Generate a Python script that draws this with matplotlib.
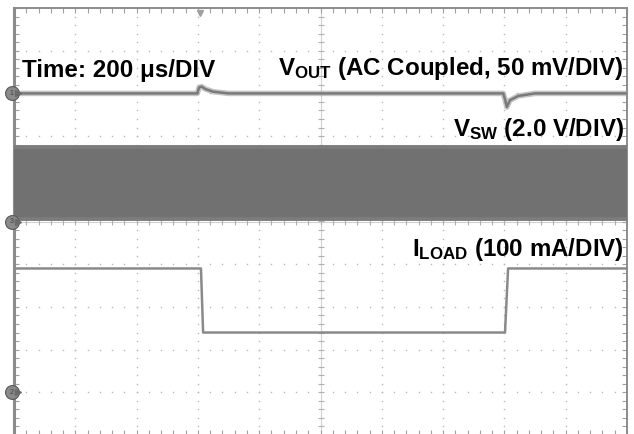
import numpy as np
import matplotlib
matplotlib.use("Agg")
import matplotlib.pyplot as plt
from matplotlib.ticker import MultipleLocator

plt.rcParams['font.family'] = ['Liberation Sans', 'DejaVu Sans']
plt.rcParams['mathtext.fontset'] = 'custom'
plt.rcParams['mathtext.bf'] = 'Liberation Sans:bold'
plt.rcParams['mathtext.rm'] = 'Liberation Sans'
plt.rcParams['mathtext.it'] = 'Liberation Sans:italic'

# ======================
# scope settings
# ======================
time_per_div = 200          # us/div
n_xdiv = 10
n_ydiv = 10
vout_scale = 50             # mV/div
vsw_scale = 2.0             # V/div
iload_scale = 100           # mA/div
ch1_offset = 3.0            # div (VOUT ground marker)
ch3_offset = 0.0            # div (VSW)
ch2_offset = -4.0           # div (ILOAD)

# ======================
# traces
# ======================
vout_t = [0, 598, 604, 612, 625, 650, 700, 1596, 1603, 1608, 1618, 1645, 1700, 2000]
vout_mv = [0, 0, 7, 8, 5, 2, 0, 0, -8, -16, -8, -3, 0, 0]

vsw_t = [0, 2000]
vsw_high = [3.5, 3.5]
vsw_low = [0.1, 0.1]

iload_t = [0, 610, 617, 1602, 1612, 2000]
iload_ma = [290, 290, 140, 140, 290, 290]

trig_t = 607

# ======================
# figure
# ======================
fig = plt.figure(figsize=(6.34, 4.34), dpi=100)
ax = fig.add_axes([14 / 634, -1 / 434, 613 / 634, 427 / 434])
xmax = time_per_div * n_xdiv
ax.set_xlim(0, xmax)
ax.set_ylim(-n_ydiv / 2, n_ydiv / 2)

grid_c = '#b8b8b8'
# dotted graticule
for k in range(1, n_xdiv):
    if k == n_xdiv // 2:
        continue
    yy = np.arange(-n_ydiv / 2, n_ydiv / 2 + 0.01, 0.2)
    ax.plot(np.full(len(yy), k * time_per_div), yy, ls='none', marker='s',
            ms=1.0, color=grid_c, mec='none', zorder=1)
for k in range(1, n_ydiv):
    if k == n_ydiv // 2:
        continue
    xx = np.arange(0, xmax + 0.1, time_per_div / 5)
    ax.plot(xx, np.full(len(xx), k - n_ydiv / 2), ls='none', marker='s',
            ms=1.0, color=grid_c, mec='none', zorder=1)

# center axes with cross ticks
ax.axvline(xmax / 2, color='#d0d0d0', lw=0.8, zorder=1)
ax.axhline(0, color='#d0d0d0', lw=0.8, zorder=1)
yy = np.arange(-n_ydiv / 2, n_ydiv / 2 + 0.01, 0.2)
ax.plot(np.full(len(yy), xmax / 2), yy, ls='none', marker='_', ms=4,
        mew=0.8, color='#b0b0b0', zorder=1)
xx = np.arange(0, xmax + 0.1, time_per_div / 5)
ax.plot(xx, np.zeros(len(xx)), ls='none', marker='|', ms=4,
        mew=0.8, color='#b0b0b0', zorder=1)

# frame
for side in ['top', 'left', 'right', 'bottom']:
    ax.spines[side].set_color('#8c8c8c')
ax.spines['left'].set_linewidth(2.2)
ax.spines['top'].set_linewidth(1.4)
ax.spines['right'].set_linewidth(1.4)
ax.spines['bottom'].set_linewidth(1.4)
ax.xaxis.set_major_locator(MultipleLocator(time_per_div))
ax.xaxis.set_minor_locator(MultipleLocator(time_per_div / 5))
ax.yaxis.set_major_locator(MultipleLocator(1))
ax.yaxis.set_minor_locator(MultipleLocator(0.2))
ax.tick_params(which='both', direction='in', top=True, bottom=True,
               left=True, right=True, labelbottom=False, labelleft=False,
               length=3.5, width=0.8, color='#a0a0a0')

# ======================
# traces
# ======================
vsw_top = np.array(vsw_high) / vsw_scale + ch3_offset
vsw_bot = np.array(vsw_low) / vsw_scale + ch3_offset
ax.fill_between(vsw_t, vsw_bot, vsw_top, color='#717171', lw=0, zorder=3)
ax.plot(vsw_t, vsw_top, color='#7c7c7c', lw=2.8, zorder=3)
ax.plot(vsw_t, vsw_bot, color='#7c7c7c', lw=2.8, zorder=3)

vout = np.array(vout_mv) / vout_scale + ch1_offset
ax.plot(vout_t, vout, color='#a0a0a0', lw=4.0, alpha=0.6, zorder=3)
ax.plot(vout_t, vout, color='#7a7a7a', lw=1.8, zorder=4)

iload = np.array(iload_ma) / iload_scale + ch2_offset
ax.plot(iload_t, iload, color='#8a8a8a', lw=1.8, zorder=4)

# channel markers
for lbl, off in [('1', ch1_offset), ('3', ch3_offset), ('2', ch2_offset)]:
    ax.plot(-7, off, marker='o', ms=10, color='#8a8a8a', mec='#5a5a5a',
            mew=0.8, clip_on=False, zorder=6)
    ax.text(-7, off, lbl, fontsize=5, ha='center', va='center',
            color='#404040', clip_on=False, zorder=7)
    ax.plot(12, off, marker='>', ms=4, color='#6a6a6a', clip_on=False, zorder=6)
ax.plot(trig_t, n_ydiv / 2 - 0.12, marker='v', ms=5, color='#a0a0a0',
        clip_on=False, zorder=6)

# ======================
# labels
# ======================
fs = 17.4
ax.text(26, 3.38, 'Time: 200 \u03bcs/DIV', fontsize=fs, fontweight='bold',
        ha='left', va='baseline', zorder=8)
ax.text(1990, 3.43, r'$\mathbf{V_{OUT}}$ (AC Coupled, 50 mV/DIV)',
        fontsize=fs, fontweight='bold', ha='right', va='baseline', zorder=8)
ax.text(1990, 2.0, r'$\mathbf{V_{SW}}$ (2.0 V/DIV)',
        fontsize=fs, fontweight='bold', ha='right', va='baseline', zorder=8)
ax.text(1990, -0.81, r'$\mathbf{I_{LOAD}}$ (100 mA/DIV)',
        fontsize=fs, fontweight='bold', ha='right', va='baseline', zorder=8)

fig.savefig('out.png', dpi=100)
